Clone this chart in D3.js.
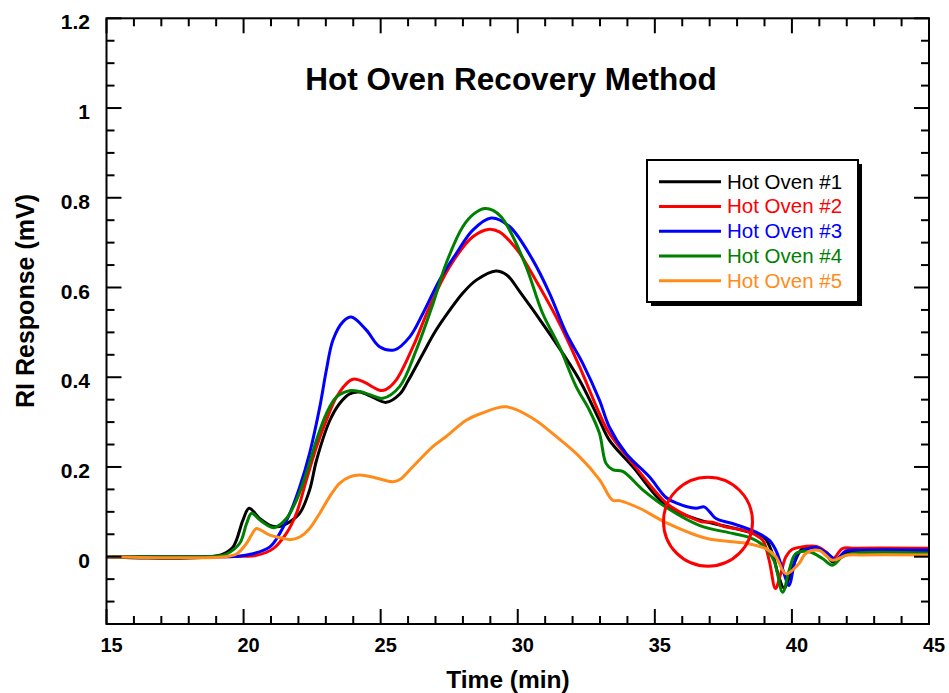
<!DOCTYPE html>
<html>
  <head>
    <meta charset="utf-8">
    <script src="https://d3js.org/d3.v7.min.js"></script>
    <style>
      body { margin: 0; background: #fff; }
      text { font-family: "Liberation Sans", Arial, sans-serif; }
    </style>
  </head>
<body>
  <script type="text/javascript">
    // ---- data: [time (min), response (mV)] ----
    var oven1 = [[15,0],[16.5,-0.003],[18,-0.003],[18.8,0],[19.25,0.006],[19.62,0.022],[19.98,0.082],[20.2,0.108],[20.59,0.085],[20.96,0.07],[21.3,0.067],[21.69,0.078],[22.05,0.097],[22.41,0.149],[22.66,0.215],[23.14,0.303],[23.51,0.342],[23.87,0.363],[24.23,0.367],[24.72,0.355],[25.2,0.344],[25.69,0.362],[26.0,0.392],[26.5,0.448],[27.0,0.503],[27.5,0.548],[28.0,0.588],[28.5,0.617],[29.2,0.637],[29.6,0.628],[30.06,0.592],[31.16,0.497],[32.25,0.394],[32.98,0.304],[33.34,0.26],[34.19,0.201],[35.41,0.114],[36.62,0.082],[37.5,0.069],[38.44,0.055],[39.0,0.042],[39.29,0.007],[39.5,-0.04],[39.72,-0.071],[39.9,-0.046],[40.08,-0.015],[40.38,0.018],[40.8,0.022],[41.2,0.009],[41.5,-0.012],[41.8,0.002],[42.1,0.011],[43,0.011],[45,0.011]];
    var oven2 = [[15,0],[18,0],[20,0.001],[20.47,0.003],[21.08,0.018],[21.56,0.052],[21.93,0.097],[22.29,0.171],[22.66,0.245],[23.02,0.304],[23.39,0.356],[23.87,0.392],[24.05,0.396],[24.4,0.389],[24.96,0.371],[25.2,0.373],[25.57,0.394],[26.18,0.468],[26.79,0.558],[27.51,0.646],[28.36,0.713],[28.97,0.73],[29.33,0.724],[29.7,0.704],[30.06,0.677],[30.79,0.602],[31.52,0.52],[32.25,0.424],[32.98,0.319],[33.34,0.275],[34.19,0.208],[35.41,0.12],[35.9,0.1],[36.4,0.085],[36.7,0.078],[37.1,0.077],[37.5,0.068],[38.44,0.055],[38.93,0.037],[39.17,-0.008],[39.4,-0.071],[39.6,-0.036],[39.78,0],[40.0,0.016],[40.5,0.023],[40.9,0.023],[41.24,0.011],[41.5,-0.004],[41.84,0.018],[42.3,0.019],[45,0.019]];
    var oven3 = [[15,0],[18,0],[19.8,0.001],[20.3,0.006],[20.96,0.022],[21.32,0.052],[21.69,0.097],[22.05,0.156],[22.41,0.231],[22.78,0.334],[23.02,0.416],[23.26,0.483],[23.63,0.524],[23.93,0.534],[24.48,0.505],[24.96,0.468],[25.51,0.461],[26.06,0.49],[26.54,0.542],[27.15,0.617],[27.76,0.676],[28.36,0.728],[29.03,0.755],[29.7,0.736],[30.55,0.661],[31.16,0.587],[31.77,0.498],[32.37,0.431],[32.98,0.349],[33.34,0.289],[33.95,0.23],[34.8,0.178],[35.41,0.132],[35.77,0.12],[36.5,0.108],[36.8,0.111],[37.0,0.1],[37.23,0.085],[37.83,0.074],[38.69,0.055],[39.17,0.037],[39.41,0.015],[39.65,-0.026],[39.9,-0.064],[40.05,-0.026],[40.2,0.007],[40.5,0.016],[40.87,0.021],[41.3,0.007],[41.6,-0.006],[41.97,0.013],[42.5,0.015],[45,0.015]];
    var oven4 = [[15,0],[18,0],[19.0,0.001],[19.38,0.006],[19.86,0.03],[20.11,0.074],[20.29,0.097],[20.59,0.082],[20.96,0.067],[21.14,0.065],[21.56,0.085],[21.93,0.126],[22.29,0.186],[22.66,0.26],[23.02,0.319],[23.39,0.356],[23.87,0.37],[24.23,0.368],[24.7,0.359],[25.08,0.353],[25.69,0.379],[26.3,0.461],[26.91,0.564],[27.39,0.654],[28.0,0.736],[28.4,0.764],[28.79,0.776],[29.1,0.772],[29.4,0.757],[29.7,0.728],[30.31,0.646],[30.91,0.542],[31.52,0.468],[32.13,0.379],[32.61,0.327],[32.98,0.275],[33.22,0.208],[33.46,0.194],[33.83,0.19],[34.56,0.149],[35.41,0.11],[36.62,0.07],[37.83,0.052],[38.44,0.043],[38.93,0.026],[39.34,-0.008],[39.66,-0.079],[39.9,-0.03],[40.14,0.007],[40.63,0.011],[41.11,-0.004],[41.48,-0.019],[41.84,0],[42.2,0.007],[45,0.008]];
    var oven5 = [[15,0],[19.3,0],[19.74,0.006],[20.11,0.03],[20.35,0.055],[20.47,0.063],[20.96,0.048],[21.44,0.041],[21.69,0.038],[22.05,0.044],[22.41,0.063],[22.78,0.097],[23.14,0.134],[23.51,0.164],[23.87,0.178],[24.23,0.182],[24.8,0.176],[25.45,0.167],[25.7,0.172],[26.18,0.201],[26.91,0.246],[27.39,0.268],[28.12,0.304],[28.61,0.318],[29.58,0.334],[30.55,0.308],[31.4,0.268],[32.25,0.223],[32.98,0.172],[33.46,0.126],[33.71,0.125],[34.44,0.108],[35.41,0.076],[36.87,0.041],[38.32,0.03],[39.05,0.018],[39.41,0],[39.78,-0.038],[40.26,-0.015],[40.5,0.007],[41.0,0.014],[41.48,-0.008],[41.97,0.003],[42.5,0.004],[45,0.004]];

    var seriesNames = ["Hot Oven #1", "Hot Oven #2", "Hot Oven #3", "Hot Oven #4", "Hot Oven #5"];
    var seriesData = [oven1, oven2, oven3, oven4, oven5];
    var colors = ["#000000", "#ff0000", "#0000ff", "#008000", "#ff8c1a"];

    var xMajor = [15, 20, 25, 30, 35, 40, 45];
    var yMajor = [0, 0.2, 0.4, 0.6, 0.8, 1, 1.2];
    var yLabels = ["0", "0.2", "0.4", "0.6", "0.8", "1", "1.2"];

    // circled region (time, response)
    var mark = {t: 36.94, v: 0.078};

    var W = 949, H = 693;
    // plot box (not named top/left: window.top is reserved)
    var pL = 106.5, pR = 929, pT = 18.3, pB = 624;

    var svg = d3.select("body").append("svg")
        .attr("width", W).attr("height", H);
    svg.append("rect").attr("width", W).attr("height", H).attr("fill", "#fff");

    var x = d3.scaleLinear().domain([15, 45]).range([pL, pR]);
    var y = d3.scaleLinear().domain([-0.15, 1.2]).range([pB, pT]);

    svg.append("clipPath").attr("id", "clip")
      .append("rect").attr("x", pL).attr("y", pT)
        .attr("width", pR - pL).attr("height", pB - pT);

    // traces
    var line = d3.line()
        .x(function(d) { return x(d[0]); })
        .y(function(d) { return y(d[1]); })
        .curve(d3.curveCatmullRom.alpha(0.5));

    svg.append("g").attr("clip-path", "url(#clip)")
      .selectAll("path").data(seriesData).enter()
      .append("path")
        .attr("d", line)
        .attr("fill", "none")
        .attr("stroke", function(d, i) { return colors[i]; })
        .attr("stroke-width", 3)
        .attr("stroke-linejoin", "round");

    // red circle annotation
    svg.append("circle")
        .attr("cx", x(mark.t)).attr("cy", y(mark.v)).attr("r", 44.5)
        .attr("fill", "none").attr("stroke", "#ff0000").attr("stroke-width", 3);

    // frame with inward ticks on all sides
    var xMinor = d3.range(15, 45.01, 1);
    var yMinor = d3.range(-0.15, 1.2001, 0.05);
    var ticks = svg.append("g").attr("stroke", "#000").attr("stroke-width", 2);
    function isMajorX(t) { return Math.abs(t % 5) < 1e-6; }
    function isMajorY(v) { return yMajor.some(function(m) { return Math.abs(m - v) < 1e-6; }); }

    xMinor.forEach(function(t) {
      var len = isMajorX(t) ? 15 : 8;
      ticks.append("line").attr("x1", x(t)).attr("x2", x(t)).attr("y1", pB).attr("y2", pB - len);
      ticks.append("line").attr("x1", x(t)).attr("x2", x(t)).attr("y1", pT).attr("y2", pT + len);
    });
    yMinor.forEach(function(v) {
      var len = isMajorY(v) ? 15 : 8;
      ticks.append("line").attr("y1", y(v)).attr("y2", y(v)).attr("x1", pL).attr("x2", pL + len);
      ticks.append("line").attr("y1", y(v)).attr("y2", y(v)).attr("x1", pR).attr("x2", pR - len);
    });

    svg.append("rect")
        .attr("x", pL).attr("y", pT)
        .attr("width", pR - pL).attr("height", pB - pT)
        .attr("fill", "none").attr("stroke", "#000").attr("stroke-width", 2);

    // tick labels
    svg.selectAll("text.xl").data(xMajor).enter()
      .append("text").attr("class", "xl")
        .attr("x", function(d) { return x(d) + 5; })
        .attr("y", 652)
        .attr("text-anchor", "middle")
        .style("font-size", "20px").style("font-weight", "bold")
        .text(function(d) { return d; });

    svg.selectAll("text.yl").data(yMajor).enter()
      .append("text").attr("class", "yl")
        .attr("x", 90)
        .attr("y", function(d) { return y(d) + 11; })
        .attr("text-anchor", "end")
        .style("font-size", "21px").style("font-weight", "bold")
        .text(function(d, i) { return yLabels[i]; });

    // titles
    svg.append("text")
        .attr("x", 511).attr("y", 90)
        .attr("text-anchor", "middle")
        .style("font-size", "31.5px").style("font-weight", "bold")
        .text("Hot Oven Recovery Method");

    svg.append("text")
        .attr("x", 508).attr("y", 688)
        .attr("text-anchor", "middle")
        .style("font-size", "24.5px").style("font-weight", "bold")
        .text("Time (min)");

    svg.append("text")
        .attr("transform", "translate(34,301) rotate(-90)")
        .attr("text-anchor", "middle")
        .style("font-size", "25px").style("font-weight", "bold")
        .text("RI Response (mV)");

    // legend
    var lg = svg.append("g").attr("transform", "translate(647,160)");
    lg.append("rect").attr("x", 4).attr("y", 4).attr("width", 211).attr("height", 142).attr("fill", "#000");
    lg.append("rect").attr("width", 211).attr("height", 142)
        .attr("fill", "#fff").attr("stroke", "#000").attr("stroke-width", 2);

    var rows = lg.selectAll("g.row").data(seriesNames).enter()
      .append("g").attr("class", "row")
        .attr("transform", function(d, i) { return "translate(0," + (21.7 + i * 24.75) + ")"; });
    rows.append("line")
        .attr("x1", 12).attr("x2", 74)
        .attr("stroke", function(d, i) { return colors[i]; })
        .attr("stroke-width", 3);
    rows.append("text")
        .attr("x", 80).attr("y", 7)
        .style("font-size", "20.5px")
        .attr("fill", function(d, i) { return colors[i]; })
        .text(function(d) { return d; });
  </script>
</body>
</html>
